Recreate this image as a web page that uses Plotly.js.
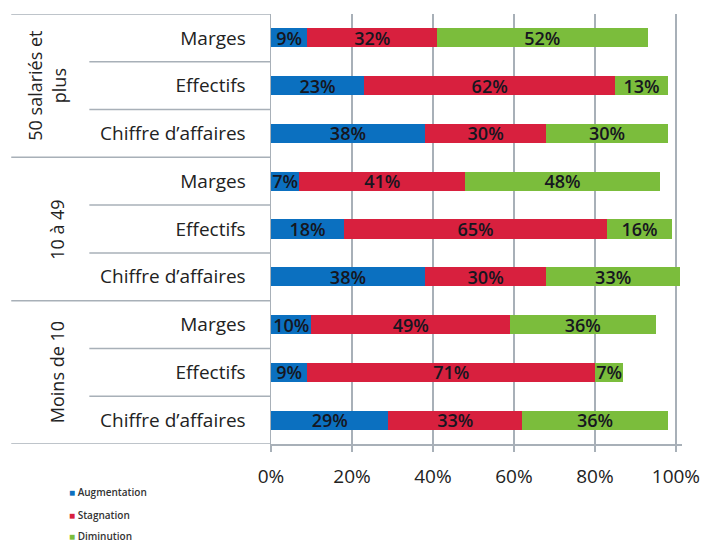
<!DOCTYPE html>
<html><head><meta charset="utf-8">
<script src="https://cdn.plot.ly/plotly-3.0.1.min.js"></script>
<style>html,body{margin:0;padding:0;background:#fff}#chart{width:716px;height:543px}</style>
</head><body><div id="chart"></div>
<script>
const groups = ['50 salariés et<br>plus', '10 à 49', 'Moins de 10'];
const items = ['Marges', 'Effectifs', 'Chiffre d’affaires'];
const seriesNames = ['Augmentation', 'Stagnation', 'Diminution'];
const seriesColors = ['#0b70c0', '#d8203e', '#7bbd3c'];
// values per row, top to bottom (group by group, items in order)
const augmentation = [9, 23, 38, 7, 18, 38, 10, 9, 29];
const stagnation   = [32, 62, 30, 41, 65, 30, 49, 71, 33];
const diminution   = [52, 13, 30, 48, 16, 33, 36, 7, 36];
const xTicks = [0, 20, 40, 60, 80, 100];

const rowLabels = [];
groups.forEach(() => items.forEach(it => rowLabels.push(it)));
const rowPos = rowLabels.map((_, i) => i);
const values = [augmentation, stagnation, diminution];

const traces = values.map((v, k) => ({
  type: 'bar', orientation: 'h',
  name: seriesNames[k], showlegend: false,
  x: v, y: rowPos,
  marker: {color: seriesColors[k], line: {width: 0}},
  width: 0.4,
  text: v.map(d => d + '%'),
  textposition: 'inside', insidetextanchor: 'middle',
  constraintext: 'none',
  textfont: {family: 'Open Sans', size: 18, weight: 600, color: '#161620'},
  hoverinfo: 'skip'
}));

const lineColor = '#a8b0b8';
const shapes = [];
// thin separators within groups
[0.5, 1.5, 3.5, 4.5, 6.5, 7.5].forEach(y => shapes.push({
  type: 'line', xref: 'paper', yref: 'y', x0: -0.442, x1: 0, y0: y, y1: y,
  line: {color: lineColor, width: 1.5}
}));
// group separators
[-0.5, 2.5, 5.5, 8.5].forEach(y => shapes.push({
  type: 'line', xref: 'paper', yref: 'y', x0: -0.632, x1: 0, y0: y, y1: y,
  line: {color: lineColor, width: 1.5}
}));

const groupX = [-0.545, -0.521, -0.521];
const annotations = groups.map((g, i) => ({
  xref: 'paper', yref: 'y', x: groupX[i], y: i * 3 + 1,
  text: g, showarrow: false, textangle: -90,
  font: {family: 'Open Sans', size: 18, color: '#222'},
  xanchor: 'center', yanchor: 'middle'
}));
// legend built as text entries with coloured squares
const legendY = [-0.112, -0.165, -0.215];
seriesNames.forEach((n, k) => annotations.push({
  xref: 'paper', yref: 'paper', x: -0.497, y: legendY[k],
  xanchor: 'left', yanchor: 'middle', showarrow: false,
  text: '<span style="color:' + seriesColors[k] + '">■</span> ' + n,
  font: {family: 'Open Sans', size: 10, weight: 600, color: '#333'}
}));

const layout = {
  width: 716, height: 543,
  margin: {l: 271, r: 34, t: 14, b: 99, autoexpand: false},
  paper_bgcolor: '#fff', plot_bgcolor: '#fff',
  barmode: 'stack', bargap: 0.6,
  font: {family: 'Open Sans', color: '#222'},
  xaxis: {
    range: [0, 101.5], tickvals: xTicks, ticktext: xTicks.map(t => t + '%'),
    showgrid: true, gridcolor: lineColor, gridwidth: 1.5,
    zeroline: false, showline: true, linecolor: lineColor, linewidth: 1.5,
    ticks: 'outside', ticklen: 6, tickcolor: lineColor, tickwidth: 1.5,
    ticklabelstandoff: 9,
    tickfont: {family: 'Open Sans', size: 19, color: '#222'},
    fixedrange: true
  },
  yaxis: {
    range: [8.5, -0.5], tickvals: rowPos, ticktext: rowLabels,
    showgrid: false, zeroline: false, showline: true, linecolor: lineColor, linewidth: 1.5,
    ticks: '', ticklabelstandoff: 20,
    tickfont: {family: 'Open Sans', size: 19, color: '#222'},
    fixedrange: true
  },
  showlegend: false,
  shapes: shapes,
  annotations: annotations
};

Plotly.newPlot('chart', traces, layout, {displayModeBar: false, staticPlot: true});
</script>
</body></html>
